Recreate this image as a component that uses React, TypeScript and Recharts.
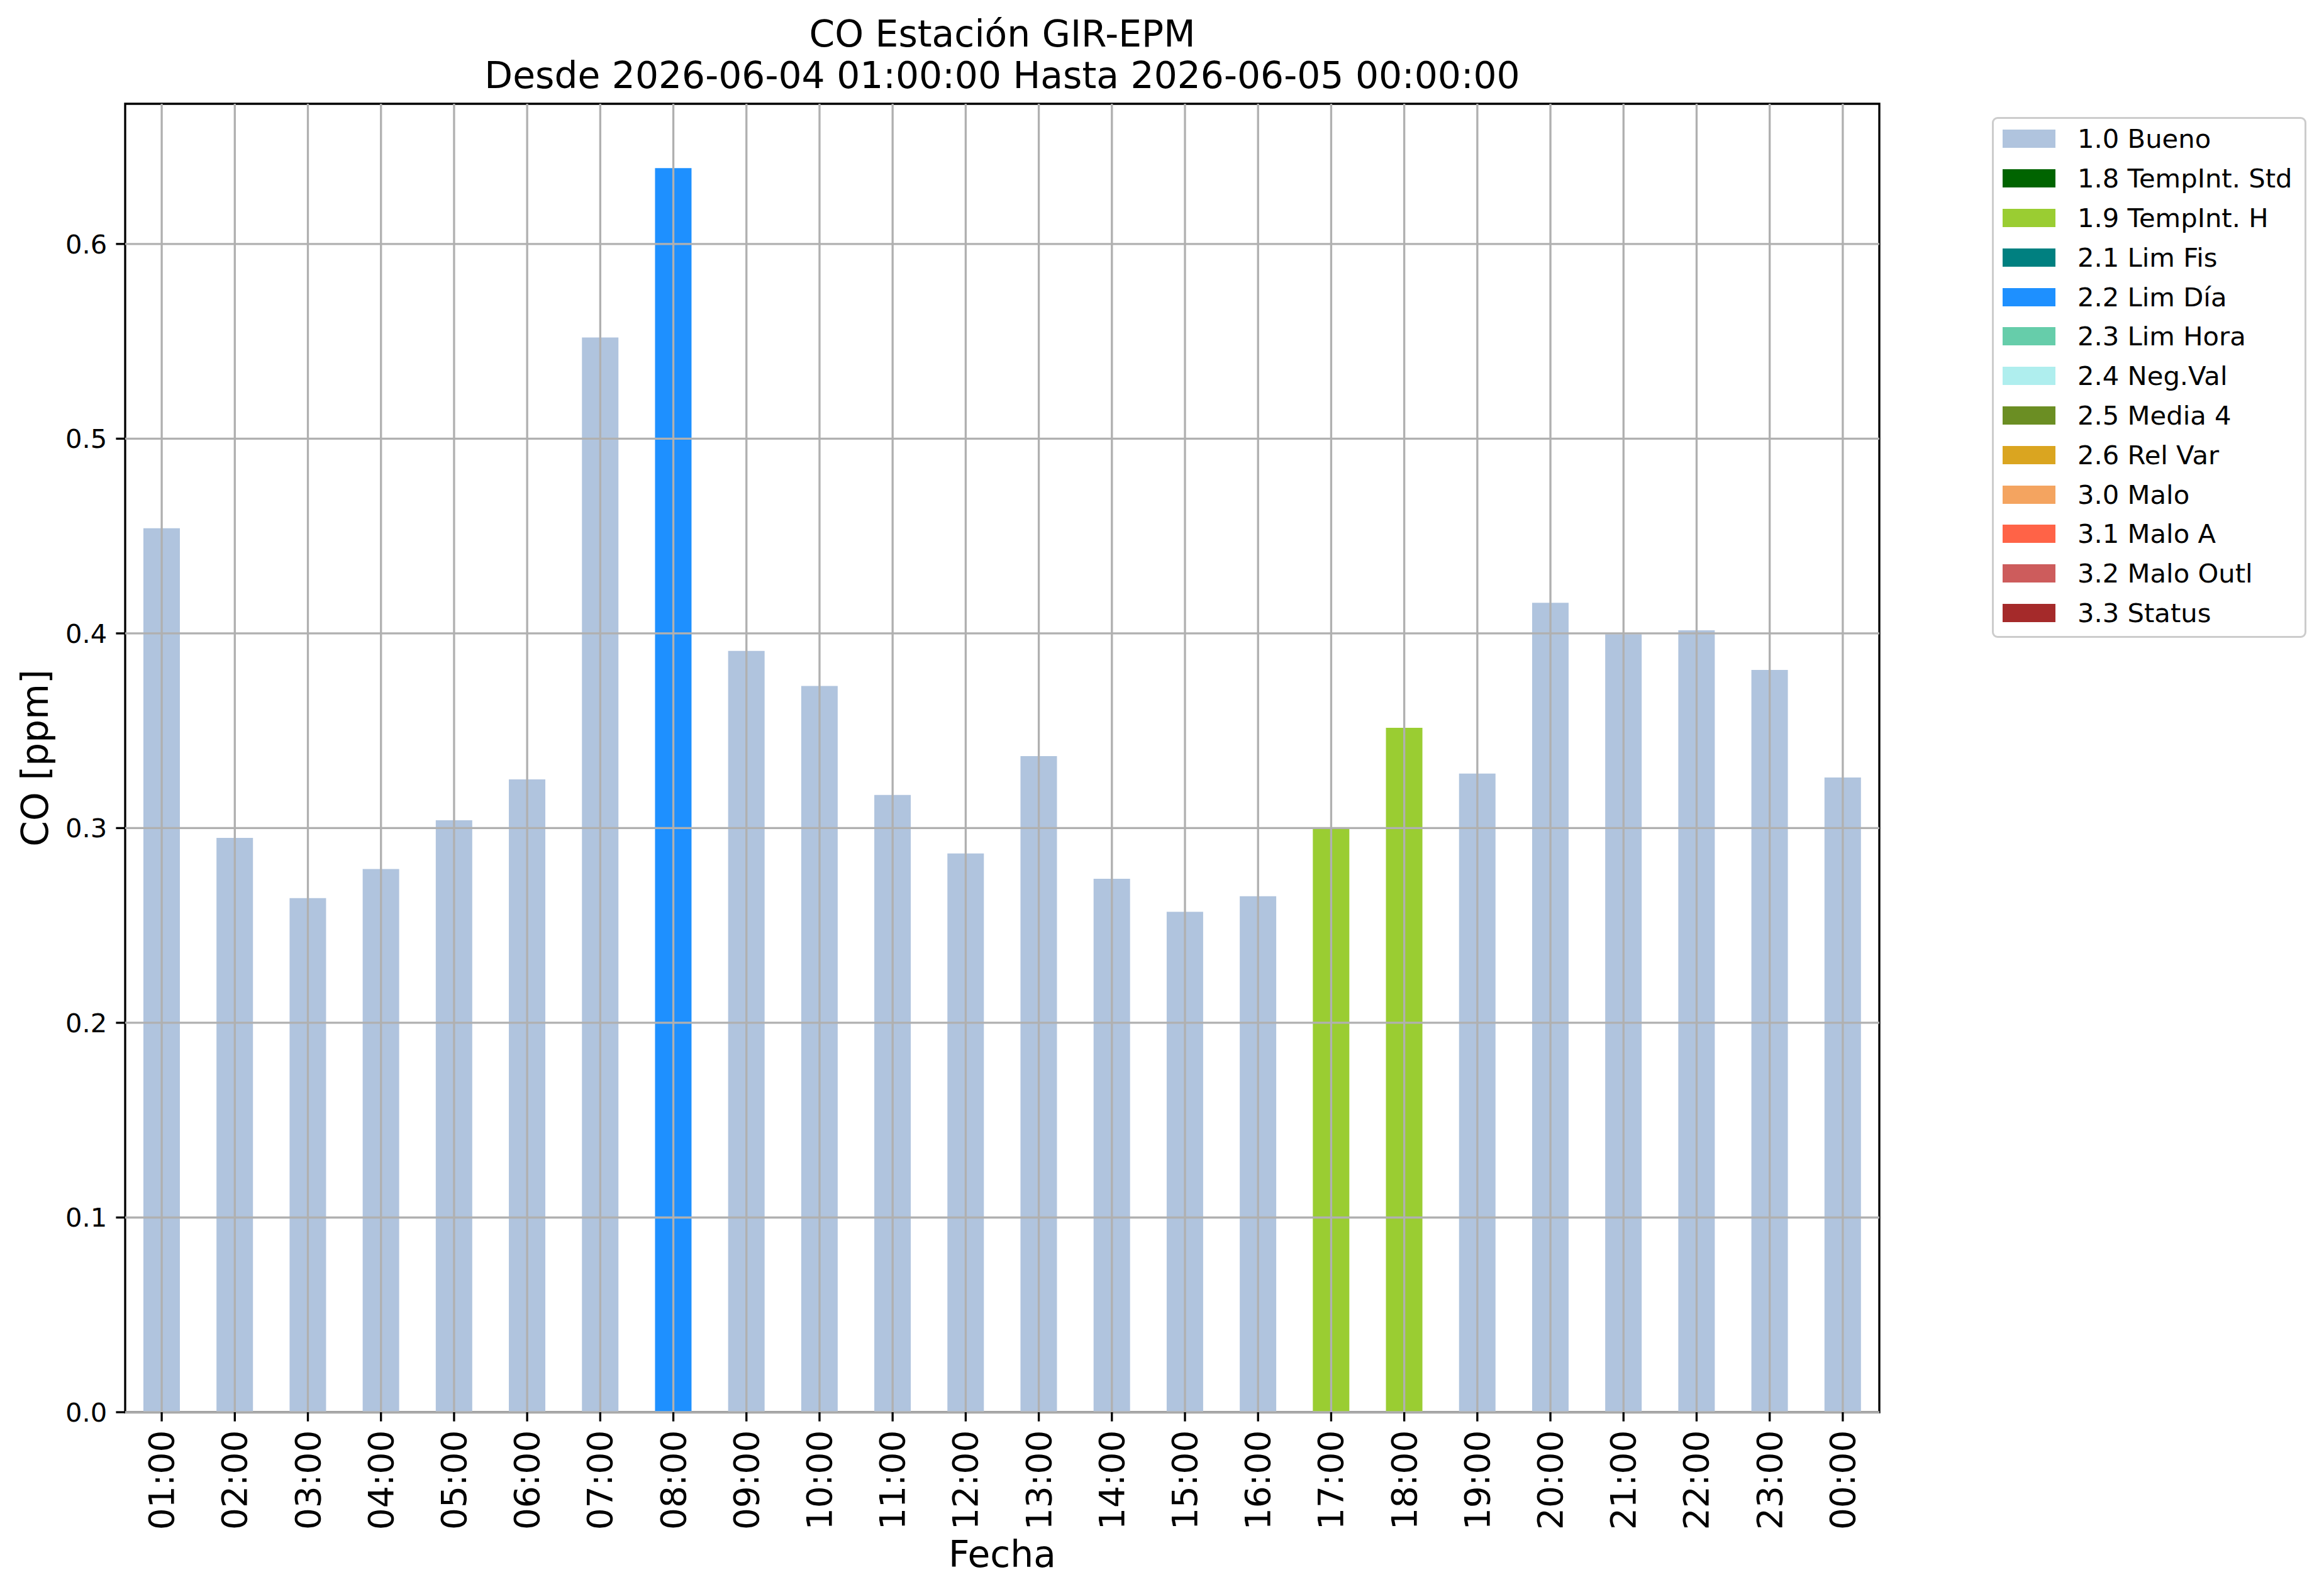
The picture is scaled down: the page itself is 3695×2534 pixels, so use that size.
import { BarChart, Bar, XAxis, YAxis, Legend, ReferenceArea, ReferenceLine } from "recharts";

const HOURS = [
  "01:00", "02:00", "03:00", "04:00", "05:00", "06:00", "07:00", "08:00",
  "09:00", "10:00", "11:00", "12:00", "13:00", "14:00", "15:00", "16:00",
  "17:00", "18:00", "19:00", "20:00", "21:00", "22:00", "23:00", "00:00",
];

const CO_PPM = [
  0.454, 0.295, 0.264, 0.279, 0.304, 0.325, 0.552, 0.639,
  0.391, 0.373, 0.317, 0.287, 0.337, 0.274, 0.257, 0.265,
  0.2995, 0.3515, 0.328, 0.4157, 0.3996, 0.4016, 0.3812, 0.326,
];

const HOUR_FLAGS = [
  "1.0 Bueno", "1.0 Bueno", "1.0 Bueno", "1.0 Bueno", "1.0 Bueno", "1.0 Bueno", "1.0 Bueno", "2.2 Lim Día",
  "1.0 Bueno", "1.0 Bueno", "1.0 Bueno", "1.0 Bueno", "1.0 Bueno", "1.0 Bueno", "1.0 Bueno", "1.0 Bueno",
  "1.9 TempInt. H", "1.9 TempInt. H", "1.0 Bueno", "1.0 Bueno", "1.0 Bueno", "1.0 Bueno", "1.0 Bueno", "1.0 Bueno",
];

const FLAGS = [
  "1.0 Bueno", "1.8 TempInt. Std", "1.9 TempInt. H", "2.1 Lim Fis", "2.2 Lim Día",
  "2.3 Lim Hora", "2.4 Neg.Val", "2.5 Media 4", "2.6 Rel Var", "3.0 Malo",
  "3.1 Malo A", "3.2 Malo Outl", "3.3 Status",
];

const FLAG_COLORS = [
  "#b0c4de", "#006400", "#9acd32", "#008080", "#1e90ff",
  "#66cdaa", "#afeeee", "#6b8e23", "#daa520", "#f4a460",
  "#ff6347", "#cd5c5c", "#a52a2a",
];

const Y_TICKS = [0, 0.1, 0.2, 0.3, 0.4, 0.5, 0.6];
const Y_MAX = 0.672;

const FONT = "'DejaVu Sans', sans-serif";
const LW = 3.33; // 0.8pt at 300 dpi

// one column per flag, like the stacked dataframe
const rows = HOURS.map((hour, i) => {
  const row: Record<string, number | string> = { hour };
  FLAGS.forEach((f, k) => {
    row[`q${k}`] = HOUR_FLAGS[i] === f ? CO_PPM[i] : 0;
  });
  return row;
});

function HourTick(props: any) {
  const { x, y, payload } = props;
  return (
    <text
      x={x}
      y={y}
      transform={`rotate(-90 ${x} ${y})`}
      textAnchor="end"
      dominantBaseline="central"
      fontSize={55}
      fontFamily={FONT}
      fill="#000"
    >
      {payload.value}
    </text>
  );
}

function FlagLegend(props: any) {
  const items = props.payload || [];
  return (
    <div
      style={{
        position: "relative",
        width: 500,
        height: 828,
        boxSizing: "border-box",
        border: "3.3px solid #cccccc",
        borderRadius: 9,
        background: "rgba(255,255,255,0.8)",
        fontFamily: FONT,
        fontSize: 41.7,
      }}
    >
      {items.map((it: any, i: number) => (
        <div
          key={it.value}
          style={{
            position: "absolute",
            left: 0,
            top: 35.2 + i * 62.8 - 31.4 - 3.3,
            height: 62.8,
            display: "flex",
            alignItems: "center",
            whiteSpace: "nowrap",
          }}
        >
          <span
            style={{
              display: "inline-block",
              width: 84,
              height: 29,
              marginLeft: 14,
              marginRight: 35,
              background: it.color,
            }}
          />
          <span style={{ color: "#000" }}>{it.value}</span>
        </div>
      ))}
    </div>
  );
}

export default function App() {
  return (
    <div style={{ position: "absolute", left: 0, top: 0, width: 3695, height: 2534, background: "#fff" }}>
      <BarChart
        width={3695}
        height={2534}
        data={rows}
        margin={{ top: 165, right: 707, bottom: 0, left: 0 }}
        barSize={58}
      >
        {FLAGS.map((f, k) => (
          <Bar
            key={f}
            dataKey={`q${k}`}
            name={f}
            stackId="co"
            fill={FLAG_COLORS[k]}
            isAnimationActive={false}
          />
        ))}
        <XAxis
          dataKey="hour"
          interval={0}
          height={289}
          axisLine={false}
          tickLine={{ stroke: "#000", strokeWidth: LW }}
          tickSize={14.6}
          tickMargin={14}
          tick={<HourTick />}
        />
        <YAxis
          width={199}
          domain={[0, Y_MAX]}
          ticks={Y_TICKS}
          allowDataOverflow
          axisLine={false}
          tickLine={{ stroke: "#000", strokeWidth: LW }}
          tickSize={14.6}
          tickMargin={14}
          tickFormatter={(v: number) => v.toFixed(1)}
          tick={{ fontSize: 41.7, fontFamily: FONT, fill: "#000" }}
        />
        {/* matplotlib draws the grid above the bars */}
        {Y_TICKS.map((t) => (
          <ReferenceLine key={`gy${t}`} y={t} stroke="#b0b0b0" strokeWidth={LW} />
        ))}
        {HOURS.map((h) => (
          <ReferenceLine key={`gx${h}`} x={h} stroke="#b0b0b0" strokeWidth={LW} />
        ))}
        <ReferenceArea y1={0} y2={Y_MAX} fill="none" stroke="#000" strokeWidth={LW} ifOverflow="visible" />
        <Legend
          layout="vertical"
          align="center"
          verticalAlign="middle"
          content={<FlagLegend />}
          wrapperStyle={{ left: 3167, top: 186, width: 500, height: 828 }}
        />
        <text x={1593.5} y={74} textAnchor="middle" fontSize={58.3} fontFamily={FONT} fill="#000">
          CO Estación GIR-EPM
        </text>
        <text x={1593.5} y={140} textAnchor="middle" fontSize={58.3} fontFamily={FONT} fill="#000">
          Desde 2026-06-04 01:00:00 Hasta 2026-06-05 00:00:00
        </text>
        <text x={1593.5} y={2491} textAnchor="middle" fontSize={58.3} fontFamily={FONT} fill="#000">
          Fecha
        </text>
        <text
          x={76}
          y={1205}
          transform="rotate(-90 76 1205)"
          textAnchor="middle"
          fontSize={58.3}
          fontFamily={FONT}
          fill="#000"
        >
          CO [ppm]
        </text>
      </BarChart>
    </div>
  );
}
